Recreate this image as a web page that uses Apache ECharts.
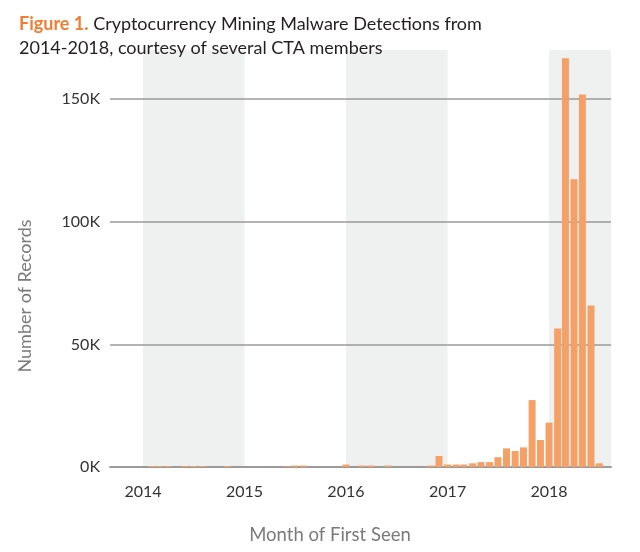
<!DOCTYPE html>
<html>
<head>
<meta charset="utf-8">
<script src="https://cdn.jsdelivr.net/npm/echarts@6/dist/echarts.min.js"></script>
<style>
html,body{margin:0;padding:0;background:#fff;}
#chart{width:640px;height:552px;}
</style>
</head>
<body>
<div id="chart"></div>
<script>
// ---- data ----
var startYear = 2014;
var yearLabels = ['2014', '2015', '2016', '2017', '2018'];
var shadedYears = [2014, 2016, 2018];
// monthly detections, Jan 2014 .. Jul 2018
var values2014 = [0, 400, 400, 400, 0, 400, 400, 400, 0, 0, 400, 0];
var values2015 = [0, 0, 0, 0, 0, 300, 600, 600, 0, 0, 0, 0];
var values2016 = [1000, 0, 600, 600, 0, 600, 0, 0, 0, 0, 600, 4500];
var values2017 = [1000, 1000, 1000, 1500, 2000, 2000, 4000, 7600, 6500, 8000, 27300, 11000];
var values2018 = [18100, 56500, 166600, 117300, 151900, 65800, 1500];
var yTicks = [0, 50000, 100000, 150000];

var allValues = [values2014, values2015, values2016, values2017, values2018];
var barData = [];
allValues.forEach(function (arr, yi) {
  arr.forEach(function (v, mi) {
    // months with no detections draw no bar
    barData.push([new Date(startYear + yi, mi, 1).getTime(), v > 0 ? v : null]);
  });
});
var yearTs = yearLabels.map(function (y) { return new Date(+y, 0, 1).getTime(); });
var xMin = new Date(2013, 8, 4).getTime();
var xMax = new Date(2018, 7, 12).getTime();

var bands = shadedYears.map(function (y) {
  var s = new Date(y, 0, 1).getTime();
  var e = Math.min(new Date(y + 1, 0, 1).getTime(), xMax);
  return [{ xAxis: s }, { xAxis: e }];
});

var chart = echarts.init(document.getElementById('chart'), null, { renderer: 'canvas' });
var FONT = 'Lato';
chart.setOption({
  animation: false,
  backgroundColor: '#ffffff',
  textStyle: { fontFamily: FONT },
  title: {
    left: 14, top: 7,
    text: '{a|Figure 1.} {b|Cryptocurrency Mining Malware Detections from}\n{b|2014-2018, courtesy of several CTA members}',
    textStyle: {
      fontWeight: 'normal',
      rich: {
        a: { fontFamily: FONT, fontSize: 18, fontWeight: 'bold', color: '#f07d32', lineHeight: 24 },
        b: { fontFamily: FONT, fontSize: 18, fontWeight: 'normal', color: '#231f20', lineHeight: 24 }
      }
    }
  },
  grid: { left: 110, right: 29, top: 50, bottom: 85, containLabel: false },
  xAxis: {
    type: 'value',
    min: xMin, max: xMax,
    z: 2,
    axisLine: { show: true, lineStyle: { color: '#9a9a9a', width: 2 } },
    axisTick: { show: false },
    splitLine: { show: false },
    axisLabel: {
      customValues: yearTs,
      margin: 17,
      fontSize: 16, color: '#333333', fontFamily: FONT,
      formatter: function (v) { return String(new Date(v).getFullYear()); }
    }
  },
  yAxis: {
    type: 'value',
    min: 0, max: 170000,
    z: 2,
    axisLine: { show: false },
    axisTick: { show: false },
    axisLabel: {
      customValues: yTicks,
      margin: 10,
      fontSize: 16, color: '#333333', fontFamily: FONT,
      formatter: function (v) { return (v / 1000) + 'K'; }
    },
    splitLine: { show: false }
  },
  graphic: [
    {
      type: 'text',
      rotation: Math.PI / 2,
      x: 25, y: 296,
      style: { text: 'Number of Records', fontSize: 18, fill: '#7a7a7a', fontFamily: FONT, align: 'center', verticalAlign: 'middle' }
    },
    {
      type: 'text',
      x: 330, y: 535,
      style: { text: 'Month of First Seen', fontSize: 18.5, fill: '#7a7a7a', fontFamily: FONT, align: 'center', verticalAlign: 'middle' }
    }
  ],
  series: [
    {
      type: 'line', data: [], z: 0, silent: true,
      markArea: { silent: true, z: 0, itemStyle: { color: '#eff0f0' }, data: bands }
    },
    {
      type: 'line', data: [], z: 1, silent: true,
      markLine: {
        silent: true, symbol: 'none', z: 1, label: { show: false },
        lineStyle: { color: '#9a9a9a', width: 1.5, type: 'solid' },
        data: yTicks.filter(function (v) { return v > 0; }).map(function (v) { return { yAxis: v }; })
      }
    },
    {
      type: 'bar', z: 3,
      data: barData,
      barWidth: 7,
      itemStyle: { color: '#f5a066', borderWidth: 0 }
    }
  ]
});
</script>
</body>
</html>
